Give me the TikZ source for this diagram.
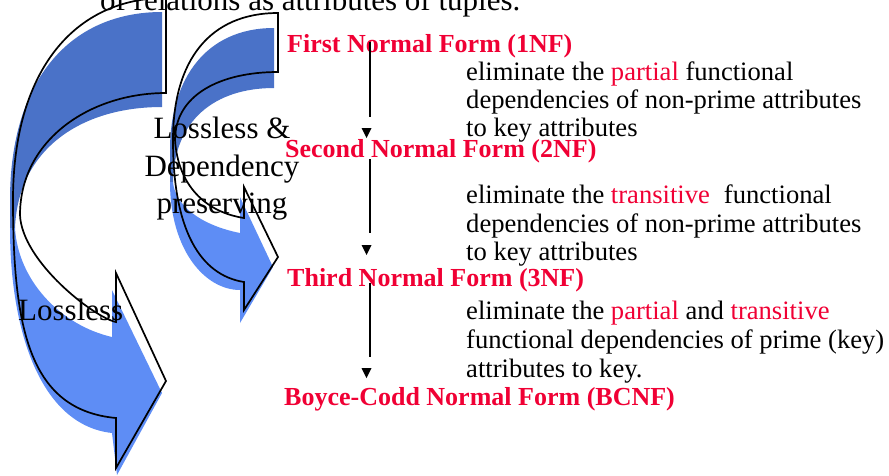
\documentclass[tikz,border=0pt]{standalone}
\usepackage{fontspec}
\setmainfont{Liberation Serif}
\definecolor{dkblue}{RGB}{74,114,200}
\definecolor{ltblue}{RGB}{94,141,245}
\definecolor{nfred}{RGB}{240,0,52}
\begin{document}
\begin{tikzpicture}[x=1pt,y=-1pt,
  heading/.style={anchor=base west, inner sep=0, text=nfred, font=\fontsize{26}{30}\selectfont\bfseries},
  desc/.style={anchor=base west, inner sep=0, font=\fontsize{26.6}{30}\selectfont},
  big/.style={inner sep=0, font=\fontsize{31}{37.5}\selectfont},
  outl/.style={draw=black, line width=1.7pt, line join=miter},
  conn/.style={draw=black, line width=1.6pt},
  tipfill/.style={fill=black}]
\useasboundingbox (0,0) rectangle (889,475);
% ---------- big arrow (Lossless) : blue faces
\fill[dkblue] (162,12) .. controls (70,12) and (10,80) .. (10,200) -- (10,228) -- (15,228)
   .. controls (18,150) and (80,107) .. (162,107) -- cycle;
\fill[ltblue] (10,228) .. controls (10,330) and (40,425) .. (112,433) -- (117,475) -- (162,393)
   -- (112,290) -- (112,337) .. controls (60,325) and (18,280) .. (15,228) -- cycle;
% ---------- small arrow : blue faces
\fill[dkblue] (274,28) .. controls (205,28) and (170,80) .. (170,150) -- (170,182) -- (173,182)
   .. controls (174,120) and (215,88) .. (274,88) -- cycle;
\fill[ltblue] (170,182) .. controls (170,250) and (205,290) .. (240,290) -- (240,323) -- (273,267)
   -- (240,197) -- (240,233) .. controls (200,225) and (175,205) .. (173,182) -- cycle;
% ---------- outlines
\draw[outl] (166,-2) -- (166,93) .. controls (90,93) and (20,140) .. (20,215)
   .. controls (22,262) and (95,318) .. (116,322) -- (116,273) -- (166,381) -- (116,468) -- (116,418)
   .. controls (30,410) and (13,330) .. (13,200) .. controls (13,70) and (75,-2) .. (166,-2) -- cycle;
\draw[outl] (278,13) -- (278,72) .. controls (220,72) and (175,95) .. (175,140)
   .. controls (178,185) and (205,212) .. (244,218) -- (244,187) -- (278,257) -- (244,310) -- (244,282)
   .. controls (200,275) and (173,230) .. (173,140) .. controls (173,60) and (210,13) .. (278,13) -- cycle;
% ---------- texts
\node[big, anchor=base west] (top) at (100,10) {of relations as attributes of tuples.};
\node[big, anchor=base] (ld1) at (222,138) {Lossless \&};
\node[big, anchor=base] (ld2) at (222,176) {Dependency};
\node[big, anchor=base] (ld3) at (222,213) {preserving};
\node[big, anchor=base west] (ll) at (18,320) {Lossless};

\node[heading] (nf1) at (287,52) {First Normal Form (1NF)};
\node[heading] (nf2) at (285,157) {Second Normal Form (2NF)};
\node[heading] (nf3) at (287,286) {Third Normal Form (3NF)};
\node[heading] (nf4) at (284,405) {Boyce-Codd Normal Form (BCNF)};

\node[desc] (d1a) at (466,80) {eliminate the {\color{nfred}partial} functional};
\node[desc] (d1b) at (466,108) {dependencies of non-prime attributes};
\node[desc] (d1c) at (466,136) {to key attributes};
\node[desc] (d2a) at (466,203) {eliminate the {\color{nfred}transitive}\hspace{14pt}functional};
\node[desc] (d2b) at (466,232) {dependencies of non-prime attributes};
\node[desc] (d2c) at (466,260) {to key attributes};
\node[desc] (d3a) at (466,319) {eliminate the {\color{nfred}partial} and {\color{nfred}transitive}};
\node[desc] (d3b) at (466,348) {functional dependencies of prime (key)};
\node[desc] (d3c) at (466,377) {attributes to key.};

% ---------- connectors
\coordinate (a1s) at (370,42);  \coordinate (a1e) at (370,117); \coordinate (t1) at (366.5,138);
\coordinate (a2s) at (370,159); \coordinate (a2e) at (370,233); \coordinate (t2) at (366.5,255);
\coordinate (a3s) at (370,283); \coordinate (a3e) at (370,357); \coordinate (t3) at (366.5,378);
\draw[conn] (a1s) -- (a1e);
\draw[conn] (a2s) -- (a2e);
\draw[conn] (a3s) -- (a3e);
\fill[tipfill] (t1) -- ++(-5,-10) -- ++(10,0) -- cycle;
\fill[tipfill] (t2) -- ++(-5,-10) -- ++(10,0) -- cycle;
\fill[tipfill] (t3) -- ++(-5,-10) -- ++(10,0) -- cycle;
\end{tikzpicture}
\end{document}
